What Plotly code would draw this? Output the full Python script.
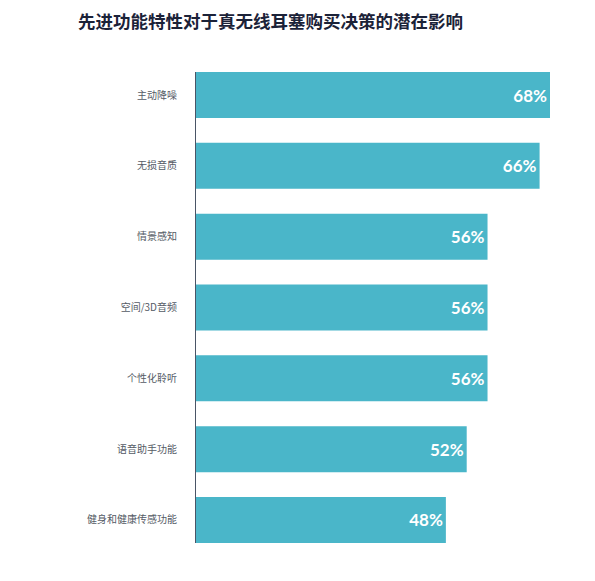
import plotly.graph_objects as go

# data
features = ["主动降噪", "无损音质", "情景感知", "空间/3D音频", "个性化聆听", "语音助手功能", "健身和健康传感功能"]
shares = [68, 66, 56, 56, 56, 52, 48]
share_labels = ["68%", "66%", "56%", "56%", "56%", "52%", "48%"]

bar_color = "#4ab6c9"
bargap = 0.35

fig = go.Figure()
fig.add_trace(go.Bar(
    x=shares,
    y=features,
    orientation="h",
    marker=dict(color=bar_color, line=dict(width=0)),
    text=share_labels,
    textposition="inside",
    insidetextanchor="end",
    textfont=dict(family="Lato, Noto Sans", size=17, color="white", weight="bold"),
    hoverinfo="skip",
))

# page body adds ~8px offset, so margins are shifted to compensate
pad = bargap / 2
fig.update_layout(
    width=595, height=581,
    margin=dict(l=188, r=53, t=64, b=46),
    paper_bgcolor="white",
    plot_bgcolor="white",
    bargap=bargap,
    showlegend=False,
    title=dict(
        text="<b>先进功能特性对于真无线耳塞购买决策的潜在影响</b>",
        x=70 / 595, xanchor="left", xref="container",
        y=1 - 14 / 581, yanchor="middle", yref="container",
        font=dict(family="Noto Sans CJK SC", size=17.5, color="#1b2238"),
    ),
    xaxis=dict(
        range=[0, max(shares)],
        visible=False,
        fixedrange=True,
    ),
    yaxis=dict(
        categoryorder="array",
        categoryarray=features,
        range=[len(features) - 0.5 - pad, -0.5 + pad],
        showline=True,
        linecolor="#4a5566",
        linewidth=1,
        showgrid=False,
        ticks="",
        ticklabelstandoff=16,
        tickfont=dict(family="Noto Sans CJK SC", size=10, color="#555b66"),
    ),
)

fig.write_html("out.html")
